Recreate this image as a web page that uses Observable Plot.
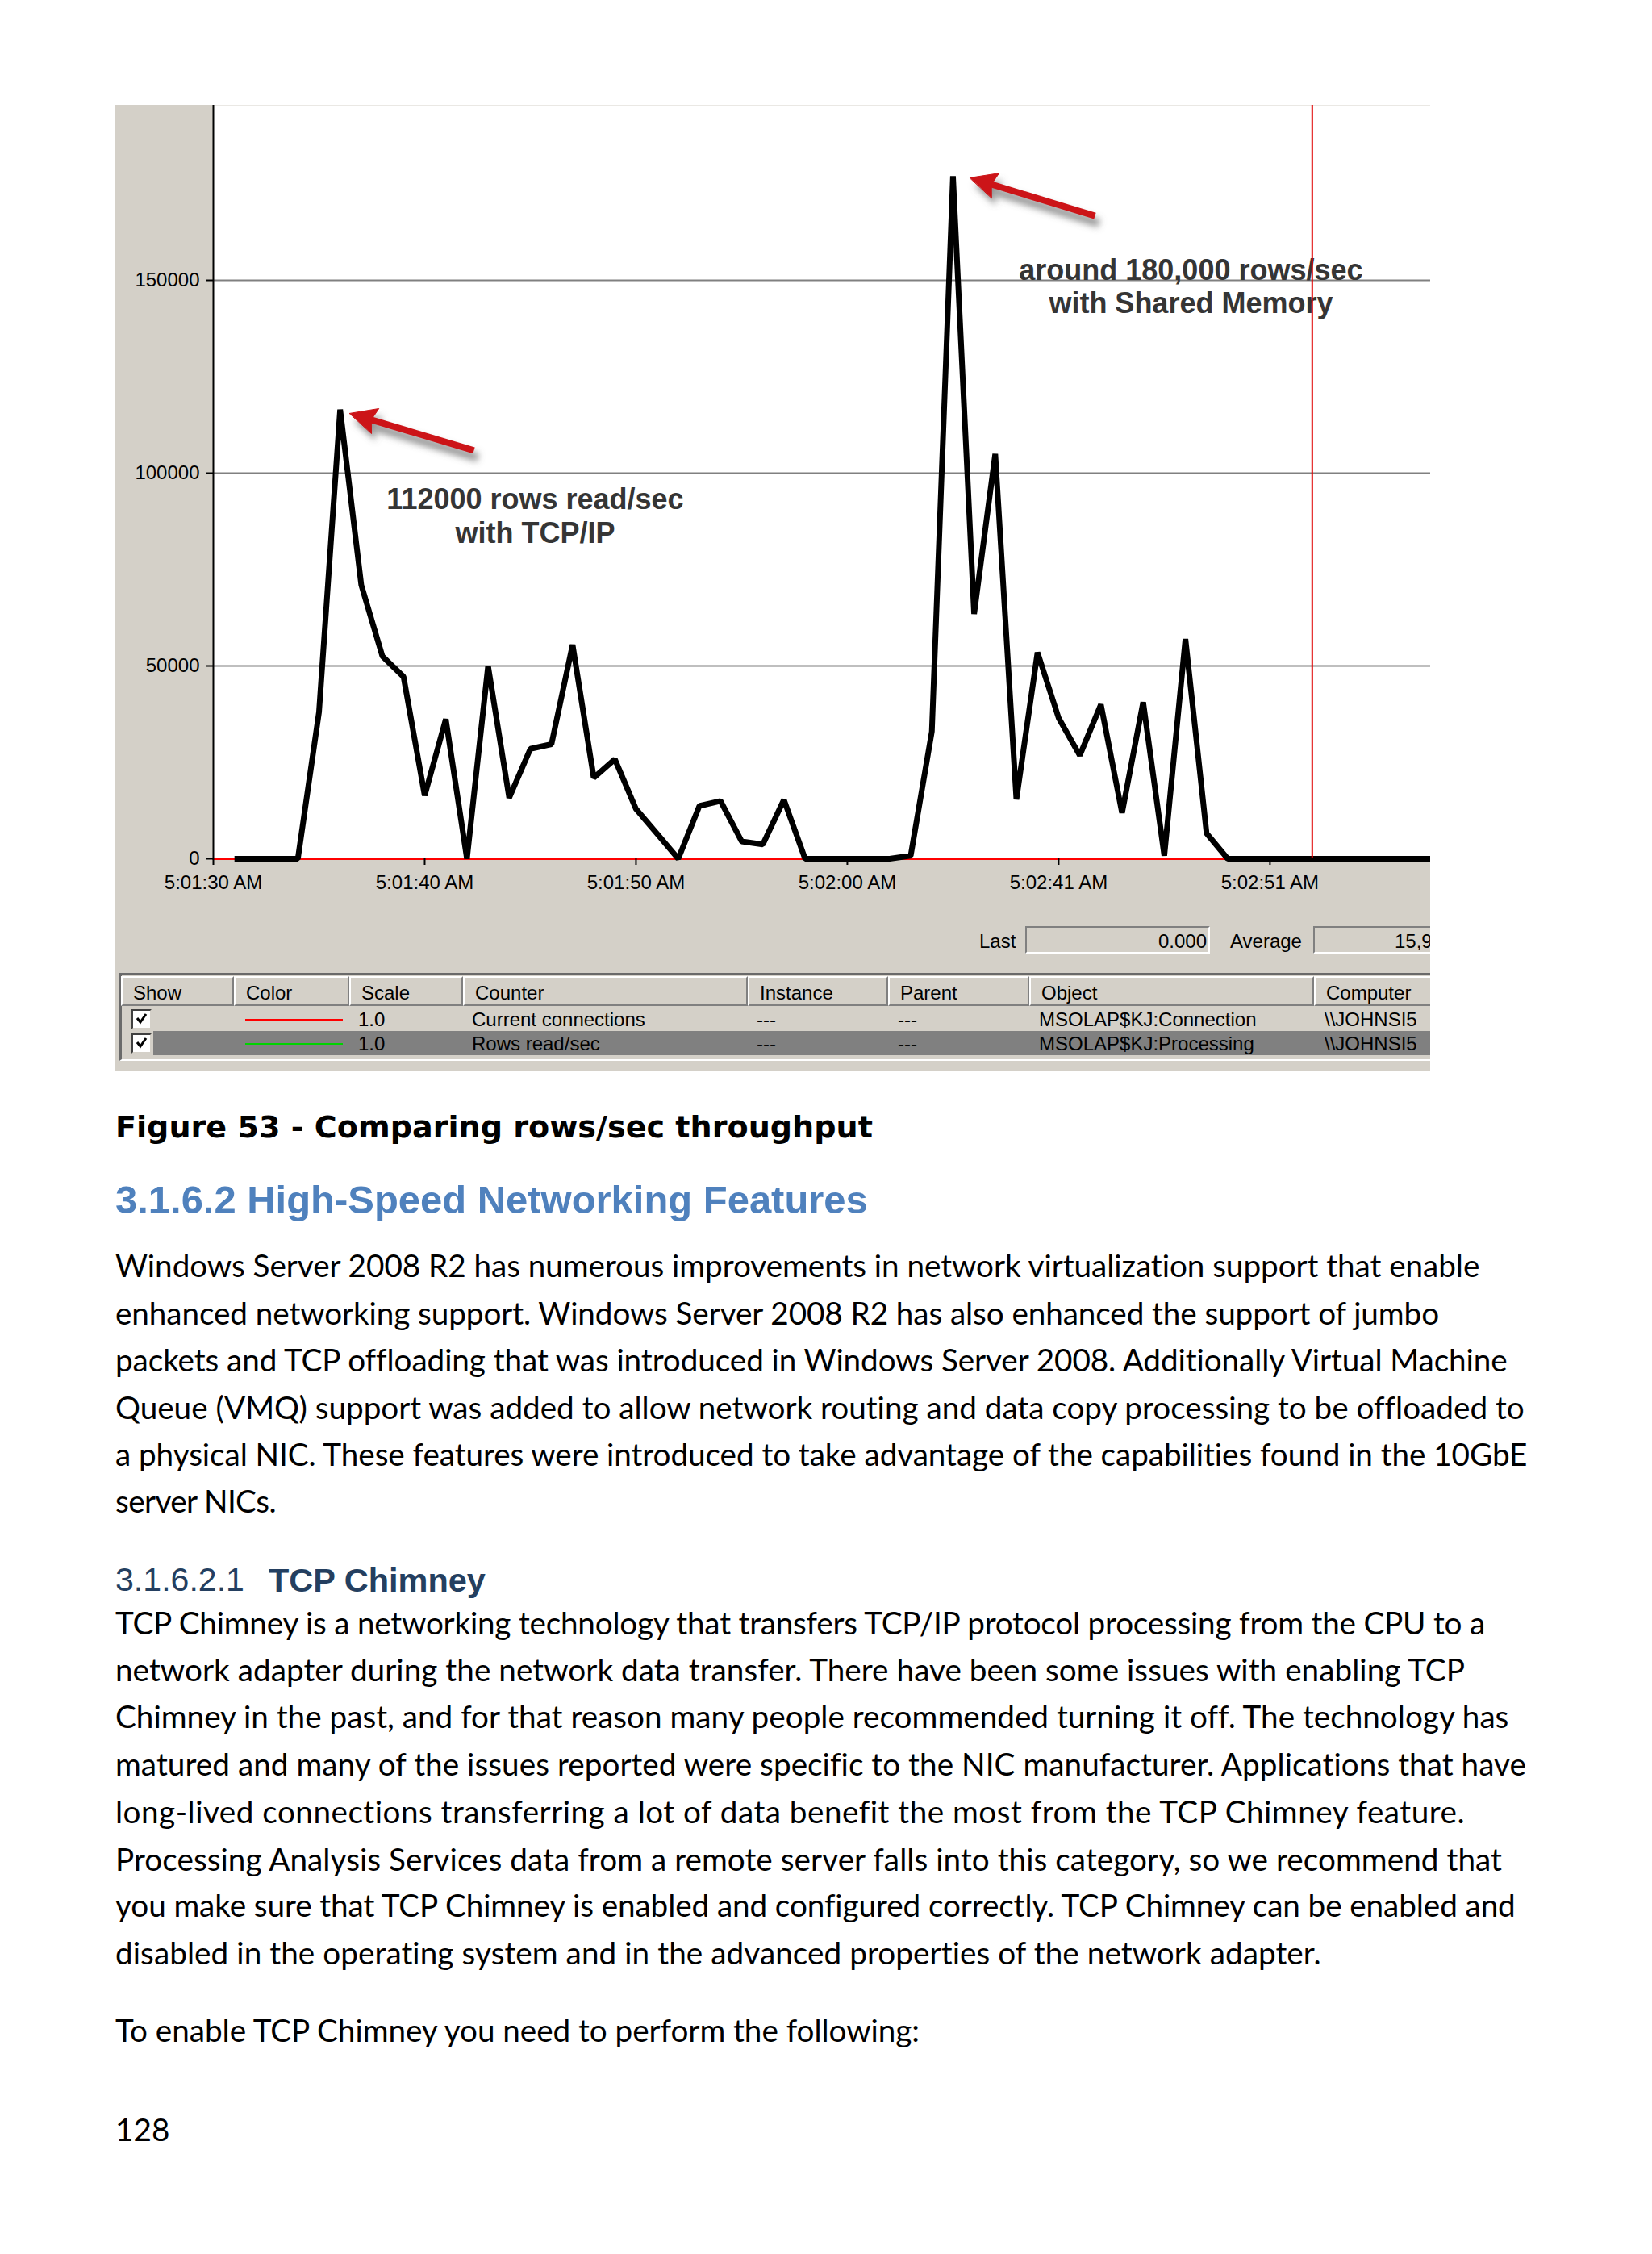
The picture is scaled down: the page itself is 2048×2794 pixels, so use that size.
<!DOCTYPE html>
<html>
<head>
<meta charset="utf-8">
<title>Figure 53 - Comparing rows/sec throughput</title>
<script src="https://cdn.jsdelivr.net/npm/d3@7"></script>
<script src="https://cdn.jsdelivr.net/npm/@observablehq/plot@0.6"></script>
<style>
  html, body { margin:0; padding:0; background:#ffffff; }
  body { width:2048px; height:2794px; position:relative; overflow:hidden; }
  .abs { position:absolute; white-space:nowrap; }
  #panel { position:absolute; left:143px; top:130px; width:1630px; height:1198px; background:#d4d0c8; overflow:hidden;
           font-family:"Liberation Sans", Arial, sans-serif; font-size:24px; line-height:24px; color:#000; }
  #panel svg { display:block; overflow:hidden; }
  .sunken { box-sizing:border-box; border-top:2px solid #808080; border-left:2px solid #808080;
            border-bottom:2px solid #ffffff; border-right:2px solid #ffffff; background:#d4d0c8; overflow:hidden; }
  .hdr { box-sizing:border-box; border-top:2px solid #ffffff; border-left:2px solid #ffffff;
         border-right:2px solid #808080; border-bottom:2px solid #808080; background:#d4d0c8; }
</style>
</head>
<body>
<div id="panel"></div>
<script>
// ================= DATA =================
const timeLabels   = ["5:01:30 AM", "5:01:40 AM", "5:01:50 AM", "5:02:00 AM", "5:02:41 AM", "5:02:51 AM", "5:03:01 AM"];
const labelSamples = [0, 10, 20, 30, 40, 50, 60];
const yTickValues  = [0, 50000, 100000, 150000];
const gridValues   = [50000, 100000, 150000];

// Rows read/sec (selected counter, drawn black), samples 1..58
const rowsReadPerSec = [
  0, 0, 0, 0, 38000, 116500, 71000, 52500, 47200, 16400,
  36200, 0, 50000, 15800, 28500, 29700, 55500, 21000, 25800, 12900,
  6500, 0, 13700, 15000, 4500, 3700, 15300, 0, 0, 0,
  0, 0, 800, 33000, 177000, 63500, 105000, 15400, 53500, 36500,
  26800, 40000, 11900, 40600, 800, 57000, 6600, 0, 0, 0,
  0, 0, 0, 0, 0, 0, 0, 0
];
// Current connections (red), samples 0..58
const currentConnections = [
  0, 0, 0, 0, 0, 0, 0, 0, 0, 0,
  0, 0, 0, 0, 0, 0, 0, 0, 0, 0,
  0, 0, 0, 0, 0, 0, 0, 0, 0, 0,
  0, 0, 0, 0, 0, 0, 0, 0, 0, 0,
  0, 0, 0, 0, 0, 0, 0, 0, 0, 0,
  0, 0, 0, 0, 0, 0, 0, 0, 0
];
const currentSample = 52;   // red time bar

const annotationTexts   = ["112000 rows read/sec\nwith TCP/IP", "around 180,000 rows/sec\nwith Shared Memory"];
const annotationSamples = [15.23, 46.26];
const annotationValues  = [89100, 148600];

const arrowTipSamples  = [6.45, 35.8];
const arrowTipValues   = [115500, 176600];
const arrowTailSamples = [12.33, 41.72];
const arrowTailValues  = [105900, 166700];

const lastValue = "0.000";
const averageValue = "15,9";
const columnNames = ["Show", "Color", "Scale", "Counter", "Instance", "Parent", "Object", "Computer"];
const counterColors = ["#ff0000", "#00d400"];
const counterScales = ["1.0", "1.0"];
const counterNames = ["Current connections", "Rows read/sec"];
const counterInstances = ["---", "---"];
const counterParents = ["---", "---"];
const counterObjects = ["MSOLAP$KJ:Connection", "MSOLAP$KJ:Processing"];
const counterComputers = ["\\\\JOHNSI5", "\\\\JOHNSI5"];

// ================= CHART =================
const W = 1630, H = 1000, mL = 121, mR = 0, mT = 0, mB = 66;
const xDomain = [0, 57.6], yDomain = [0, 195400];
const sx = Plot.scale({x: {type: "linear", domain: xDomain, range: [mL, W - mR]}});
const sy = Plot.scale({y: {type: "linear", domain: yDomain, range: [H - mB, mT]}});

const rows = rowsReadPerSec.map((v, i) => ({sample: i + 1, value: v}));
const conns = currentConnections.map((v, i) => ({sample: i, value: v}));
const notes = annotationTexts.map((t, i) => ({text: t, sample: annotationSamples[i], value: annotationValues[i]}));

// arrow geometry (head polygon built in screen space through the scales, then inverted)
const HL = 33, HW = 16;
const heads = [], shafts = [];
arrowTipSamples.forEach((_, k) => {
  const tx = sx.apply(arrowTipSamples[k]), ty = sy.apply(arrowTipValues[k]);
  const qx = sx.apply(arrowTailSamples[k]), qy = sy.apply(arrowTailValues[k]);
  const len = Math.hypot(tx - qx, ty - qy);
  const ux = (tx - qx) / len, uy = (ty - qy) / len, nx = -uy, ny = ux;
  const bx = tx - HL * ux, by = ty - HL * uy;
  [[tx, ty], [bx + HW * nx, by + HW * ny], [bx + 5 * ux, by + 5 * uy], [bx - HW * nx, by - HW * ny]]
    .forEach(([px, py]) => heads.push({arrow: k, sample: sx.invert(px), value: sy.invert(py)}));
  shafts.push({arrow: k, s1: arrowTailSamples[k], v1: arrowTailValues[k],
               s2: sx.invert(bx + 6 * ux), v2: sy.invert(by + 6 * uy)});
});

const arrowRed = "#cc1418";
const chart = Plot.plot({
  width: W, height: H,
  marginLeft: mL, marginRight: mR, marginTop: mT, marginBottom: mB,
  style: {background: "transparent", fontFamily: "'Liberation Sans', Arial, sans-serif", fontSize: "24px", color: "#000", overflow: "hidden"},
  x: {type: "linear", domain: xDomain},
  y: {type: "linear", domain: yDomain},
  marks: [
    Plot.frame({fill: "#ffffff", stroke: "none"}),
    Plot.ruleY(gridValues, {stroke: "#808080", strokeWidth: 2}),
    Plot.text(notes, {x: "sample", y: "value", text: "text", fontSize: 36, fontWeight: "bold",
                      fill: "#353535", lineHeight: 1.15, textAnchor: "middle", lineAnchor: "middle"}),
    Plot.line(conns, {x: "sample", y: "value", stroke: "#ff0000", strokeWidth: 3}),
    Plot.line(rows, {x: "sample", y: "value", stroke: "#000000", strokeWidth: 7,
                     strokeLinejoin: "miter", strokeLinecap: "butt"}),
    Plot.ruleX([0], {stroke: "#000000", strokeWidth: 2}),
    Plot.ruleX([currentSample], {stroke: "#e00000", strokeWidth: 2}),
    // arrow shadows
    Plot.link(shafts, {x1: "s1", y1: "v1", x2: "s2", y2: "v2", stroke: "#6e6e6e", strokeWidth: 10,
                       strokeOpacity: 0.75, dx: 5, dy: 9, ariaDescription: "shadow"}),
    Plot.line(heads, {x: "sample", y: "value", z: "arrow", curve: "linear-closed", fill: "#6e6e6e",
                      fillOpacity: 0.75, stroke: "none", dx: 5, dy: 9, ariaDescription: "shadow"}),
    // arrows
    Plot.link(shafts, {x1: "s1", y1: "v1", x2: "s2", y2: "v2", stroke: arrowRed, strokeWidth: 8, strokeLinecap: "butt"}),
    Plot.line(heads, {x: "sample", y: "value", z: "arrow", curve: "linear-closed", fill: arrowRed,
                      stroke: arrowRed, strokeWidth: 1}),
    Plot.axisX(labelSamples, {tickSize: 8, tickPadding: 12, strokeWidth: 2, tickFormat: (d) => timeLabels[labelSamples.indexOf(d)], fill: "#000"}),
    Plot.axisY(yTickValues, {tickSize: 9, tickPadding: 8, strokeWidth: 2, tickFormat: (d) => String(d), fill: "#000"})
  ]
});
// soft drop shadow for the arrows
const svgSel = d3.select(chart);
const defs = svgSel.insert("defs", ":first-child");
defs.append("filter").attr("id", "arrowBlur").attr("x", "-30%").attr("y", "-30%").attr("width", "160%").attr("height", "160%")
  .append("feGaussianBlur").attr("stdDeviation", 4);
svgSel.selectAll('g[aria-description="shadow"]').attr("filter", "url(#arrowBlur)");

const panel = document.getElementById("panel");
panel.appendChild(chart);

// ================= PERFMON LOWER PANEL =================
function el(parent, cls, css, text) {
  const d = document.createElement("div");
  d.className = cls;
  Object.assign(d.style, css);
  if (text != null) d.textContent = text;
  parent.appendChild(d);
  return d;
}
// Last / Average
el(panel, "abs", {left: "1071px", top: "1025px"}, "Last");
const lastBox = el(panel, "abs sunken", {left: "1128px", top: "1018px", width: "229px", height: "34px"});
el(lastBox, "abs", {right: "2px", top: "5px"}, lastValue);
el(panel, "abs", {left: "1382px", top: "1025px"}, "Average");
const avgBox = el(panel, "abs sunken", {left: "1485px", top: "1018px", width: "260px", height: "34px", borderRight: "none"});
el(avgBox, "abs", {left: "99px", top: "5px"}, averageValue);

// table frame
el(panel, "abs", {left: "5px", top: "1076px", width: "1700px", height: "109px", boxSizing: "border-box",
  borderTop: "3px solid #6a6a6a", borderLeft: "3px solid #6a6a6a", borderBottom: "2px solid #ffffff", background: "#d4d0c8"});
const colLeft = [7, 147, 290, 431, 784, 958, 1133, 1486, 1800];
columnNames.forEach((name, i) => {
  const c = el(panel, "abs hdr", {left: colLeft[i] + "px", top: "1080px", width: (colLeft[i + 1] - colLeft[i]) + "px", height: "37px"});
  el(c, "abs", {left: "13px", top: "7px"}, name);
});
const rowTop = [1118, 1148], rowH = [30, 30], rowBg = ["#d4d0c8", "#808080"];
counterNames.forEach((name, r) => {
  el(panel, "abs", {left: "47px", top: rowTop[r] + "px", width: "1700px", height: rowH[r] + "px", background: rowBg[r]});
  // checkbox
  const cb = el(panel, "abs", {left: "20px", top: (rowTop[r] + 3) + "px", width: "25px", height: "25px", boxSizing: "border-box",
    background: "#ffffff", borderTop: "2px solid #404040", borderLeft: "2px solid #404040", borderBottom: "2px solid #d4d0c8", borderRight: "2px solid #d4d0c8"});
  cb.innerHTML = '<svg width="21" height="21" style="position:absolute;left:0;top:0"><path d="M5 9 L9 14 L16 4" fill="none" stroke="#000" stroke-width="3"/></svg>';
  // colour swatch line
  el(panel, "abs", {left: "161px", top: (rowTop[r] + 15) + "px", width: "121px", height: "2px", background: counterColors[r]});
  const cy = rowTop[r] + 4;
  el(panel, "abs", {left: (colLeft[2] + 11) + "px", top: cy + "px"}, counterScales[r]);
  el(panel, "abs", {left: (colLeft[3] + 11) + "px", top: cy + "px"}, name);
  el(panel, "abs", {left: (colLeft[4] + 11) + "px", top: cy + "px"}, counterInstances[r]);
  el(panel, "abs", {left: (colLeft[5] + 12) + "px", top: cy + "px"}, counterParents[r]);
  el(panel, "abs", {left: (colLeft[6] + 12) + "px", top: cy + "px"}, counterObjects[r]);
  el(panel, "abs", {left: (colLeft[7] + 13) + "px", top: cy + "px"}, counterComputers[r]);
});

// ================= PAGE TEXT =================
const captionText = "Figure 53 - Comparing rows/sec throughput";
const headingText = "3.1.6.2 High-Speed Networking Features";
const subNumber = "3.1.6.2.1";
const subTitle = "TCP Chimney";
const para1 = [
  "Windows Server 2008 R2 has numerous improvements in network virtualization support that enable",
  "enhanced networking support. Windows Server 2008 R2 has also enhanced the support of jumbo",
  "packets and TCP offloading that was introduced in Windows Server 2008. Additionally Virtual Machine",
  "Queue (VMQ) support was added to allow network routing and data copy processing to be offloaded to",
  "a physical NIC. These features were introduced to take advantage of the capabilities found in the 10GbE",
  "server NICs."
];
const para2 = [
  "TCP Chimney is a networking technology that transfers TCP/IP protocol processing from the CPU to a",
  "network adapter during the network data transfer. There have been some issues with enabling TCP",
  "Chimney in the past, and for that reason many people recommended turning it off. The technology has",
  "matured and many of the issues reported were specific to the NIC manufacturer. Applications that have",
  "long-lived connections transferring a lot of data benefit the most from the TCP Chimney feature.",
  "Processing Analysis Services data from a remote server falls into this category, so we recommend that",
  "you make sure that TCP Chimney is enabled and configured correctly. TCP Chimney can be enabled and",
  "disabled in the operating system and in the advanced properties of the network adapter."
];
const para3 = ["To enable TCP Chimney you need to perform the following:"];
const pageNumber = "128";

const para1Y = [1572, 1631, 1689, 1748, 1806, 1864];
const para1R = [1835, 1784, 1868, 1889, 1894, 342];
const para2Y = [2015, 2073, 2131, 2190, 2249, 2308, 2365, 2424];
const para2R = [1841, 1816, 1869, 1892, 1816, 1862, 1878, 1639];
const para3Y = [2520], para3R = [1140];

function textAt(str, left, cy, family, size, weight, color, capCenter) {
  const d = document.createElement("div");
  d.className = "abs";
  Object.assign(d.style, {left: left + "px", fontFamily: family, fontSize: size + "px", lineHeight: "1.2",
                          fontWeight: weight, color: color});
  d.textContent = str;
  document.body.appendChild(d);
  d.style.top = (cy - capCenter * size) + "px";
  return d;
}
function fitSize(d, target, cy, capCenter) {
  const w = d.getBoundingClientRect().width;
  const s = parseFloat(d.style.fontSize) * target / w;
  d.style.fontSize = s + "px";
  d.style.top = (cy - capCenter * s) + "px";
  return s;
}
const arial = "'Liberation Sans', Arial, sans-serif";
const cap = textAt(captionText, 143, 1397, "'DejaVu Sans', Verdana, sans-serif", 38, "bold", "#000", 0.58);
fitSize(cap, 939, 1397, 0.58);
const head = textAt(headingText, 143, 1487, arial, 48, "bold", "#4f81bd", 0.59);
fitSize(head, 933, 1487, 0.59);
const sn = textAt(subNumber, 143, 1958, arial, 41, "normal", "#243f60", 0.59);
fitSize(sn, 160, 1958, 0.59);
const st = textAt(subTitle, 333, 1958, arial, 41, "bold", "#243f60", 0.59);
fitSize(st, 269, 1958, 0.59);

const bodyFamily = "Lato, 'Open Sans', sans-serif";
const lines = [];
[[para1, para1Y, para1R], [para2, para2Y, para2R], [para3, para3Y, para3R]].forEach(([ls, ys, rs]) => {
  ls.forEach((t, i) => lines.push({t, y: ys[i], r: rs[i]}));
});
// global size from the full-width lines, then small per-line tracking tweak
const probe = lines.map(L => textAt(L.t, 143, L.y, bodyFamily, 36, "normal", "#000", 0.69));
let sumW = 0, sumT = 0;
probe.forEach((d, i) => { if (lines[i].t.length > 80) { sumW += d.getBoundingClientRect().width; sumT += lines[i].r - 143; } });
const bodySize = 36 * sumT / sumW;
probe.forEach((d, i) => {
  d.style.fontSize = bodySize + "px";
  d.style.top = (lines[i].y - 0.69 * bodySize) + "px";
  const w = d.getBoundingClientRect().width;
  const n = lines[i].t.length;
  let ls = (lines[i].r - 143 - w) / n;
  ls = Math.max(-0.8, Math.min(0.8, ls));
  d.style.letterSpacing = ls + "px";
});
textAt(pageNumber, 143, 2643, bodyFamily, bodySize, "normal", "#000", 0.69);
</script>
</body>
</html>
